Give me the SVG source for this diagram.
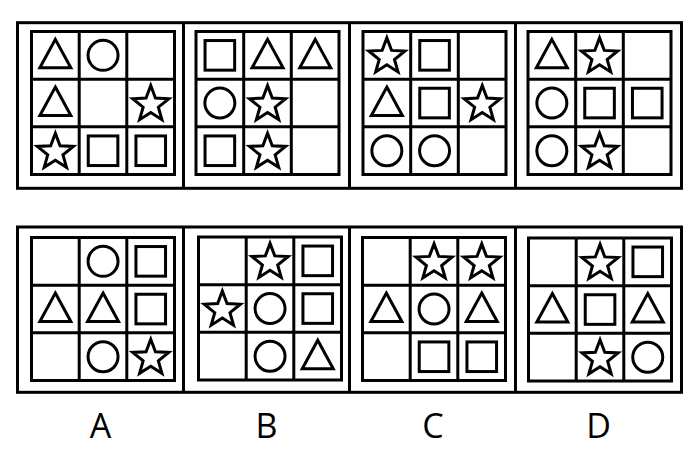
<svg xmlns="http://www.w3.org/2000/svg" width="700" height="470" viewBox="0 0 700 470">
<style>
.s{fill:none;stroke:#000;stroke-width:3}
.g{fill:none;stroke:#000;stroke-width:3}
.lbl{font-family:"Open Sans","Liberation Sans",Arial,sans-serif;font-size:34px;fill:#000;text-anchor:middle}
</style>
<defs>
<path id="grid" class="g" d="M0 0H143V143H0Z M47.7 0V143 M95.3 0V143 M0 47.7H143 M0 95.3H143"/>
<circle id="ci" class="s" cx="0" cy="0" r="15"/>
<rect id="sq" class="s" x="-14.8" y="-14.8" width="29.6" height="29.6"/>
<polygon id="tr" class="s" points="0,-16 15.5,12.5 -15.5,12.5"/>
<polygon id="st" class="s" points="0,-17.5 4.7,-4.95 18.07,-4.33 7.61,4.12 11.17,16.61 0,9.5 -11.17,16.61 -7.61,4.12 -18.07,-4.33 -4.7,-4.95"/>
</defs>
<rect width="700" height="470" fill="#fff"/>
<g id="frames" class="g">
<rect x="17.5" y="22.7" width="664" height="165.6"/>
<path d="M183.5 22.7V188.3 M349.5 22.7V188.3 M515.5 22.7V188.3"/>
<rect x="17.5" y="227" width="664" height="165.3"/>
<path d="M183.5 227V392.3 M349.5 227V392.3 M515.5 227V392.3"/>
</g>
<g id="q1" transform="translate(31.5,31.5)">
<use href="#grid"/>
<use href="#tr" x="23.85" y="23.85"/><use href="#ci" x="71.55" y="23.85"/>
<use href="#tr" x="23.85" y="71.55"/><use href="#st" x="119.25" y="71.55"/>
<use href="#st" x="23.85" y="119.25"/><use href="#sq" x="71.55" y="119.25"/><use href="#sq" x="119.25" y="119.25"/>
</g>
<g id="q2" transform="translate(196,31.5)">
<use href="#grid"/>
<use href="#sq" x="23.85" y="23.85"/><use href="#tr" x="71.55" y="23.85"/><use href="#tr" x="119.25" y="23.85"/>
<use href="#ci" x="23.85" y="71.55"/><use href="#st" x="71.55" y="71.55"/>
<use href="#sq" x="23.85" y="119.25"/><use href="#st" x="71.55" y="119.25"/>
</g>
<g id="q3" transform="translate(363,31.5)">
<use href="#grid"/>
<use href="#st" x="23.85" y="23.85"/><use href="#sq" x="71.55" y="23.85"/>
<use href="#tr" x="23.85" y="71.55"/><use href="#sq" x="71.55" y="71.55"/><use href="#st" x="119.25" y="71.55"/>
<use href="#ci" x="23.85" y="119.25"/><use href="#ci" x="71.55" y="119.25"/>
</g>
<g id="q4" transform="translate(528,31.5)">
<use href="#grid"/>
<use href="#tr" x="23.85" y="23.85"/><use href="#st" x="71.55" y="23.85"/>
<use href="#ci" x="23.85" y="71.55"/><use href="#sq" x="71.55" y="71.55"/><use href="#sq" x="119.25" y="71.55"/>
<use href="#ci" x="23.85" y="119.25"/><use href="#st" x="71.55" y="119.25"/>
</g>
<g id="optA" transform="translate(31.5,237.5)">
<use href="#grid"/>
<use href="#ci" x="71.55" y="23.85"/><use href="#sq" x="119.25" y="23.85"/>
<use href="#tr" x="23.85" y="71.55"/><use href="#tr" x="71.55" y="71.55"/><use href="#sq" x="119.25" y="71.55"/>
<use href="#ci" x="71.55" y="119.25"/><use href="#st" x="119.25" y="119.25"/>
</g>
<g id="optB" transform="translate(198.5,237)">
<use href="#grid"/>
<use href="#st" x="71.55" y="23.85"/><use href="#sq" x="119.25" y="23.85"/>
<use href="#st" x="23.85" y="71.55"/><use href="#ci" x="71.55" y="71.55"/><use href="#sq" x="119.25" y="71.55"/>
<use href="#ci" x="71.55" y="119.25"/><use href="#tr" x="119.25" y="119.25"/>
</g>
<g id="optC" transform="translate(362.5,237.5)">
<use href="#grid"/>
<use href="#st" x="71.55" y="23.85"/><use href="#st" x="119.25" y="23.85"/>
<use href="#tr" x="23.85" y="71.55"/><use href="#ci" x="71.55" y="71.55"/><use href="#tr" x="119.25" y="71.55"/>
<use href="#sq" x="71.55" y="119.25"/><use href="#sq" x="119.25" y="119.25"/>
</g>
<g id="optD" transform="translate(528.5,238)">
<use href="#grid"/>
<use href="#st" x="71.55" y="23.85"/><use href="#sq" x="119.25" y="23.85"/>
<use href="#tr" x="23.85" y="71.55"/><use href="#sq" x="71.55" y="71.55"/><use href="#tr" x="119.25" y="71.55"/>
<use href="#st" x="71.55" y="119.25"/><use href="#ci" x="119.25" y="119.25"/>
</g>
<g id="labels">
<text class="lbl" x="100.5" y="437.5">A</text>
<text class="lbl" x="266.5" y="437.5">B</text>
<text class="lbl" x="433" y="437.5">C</text>
<text class="lbl" x="598.5" y="437.5">D</text>
</g>
</svg>
